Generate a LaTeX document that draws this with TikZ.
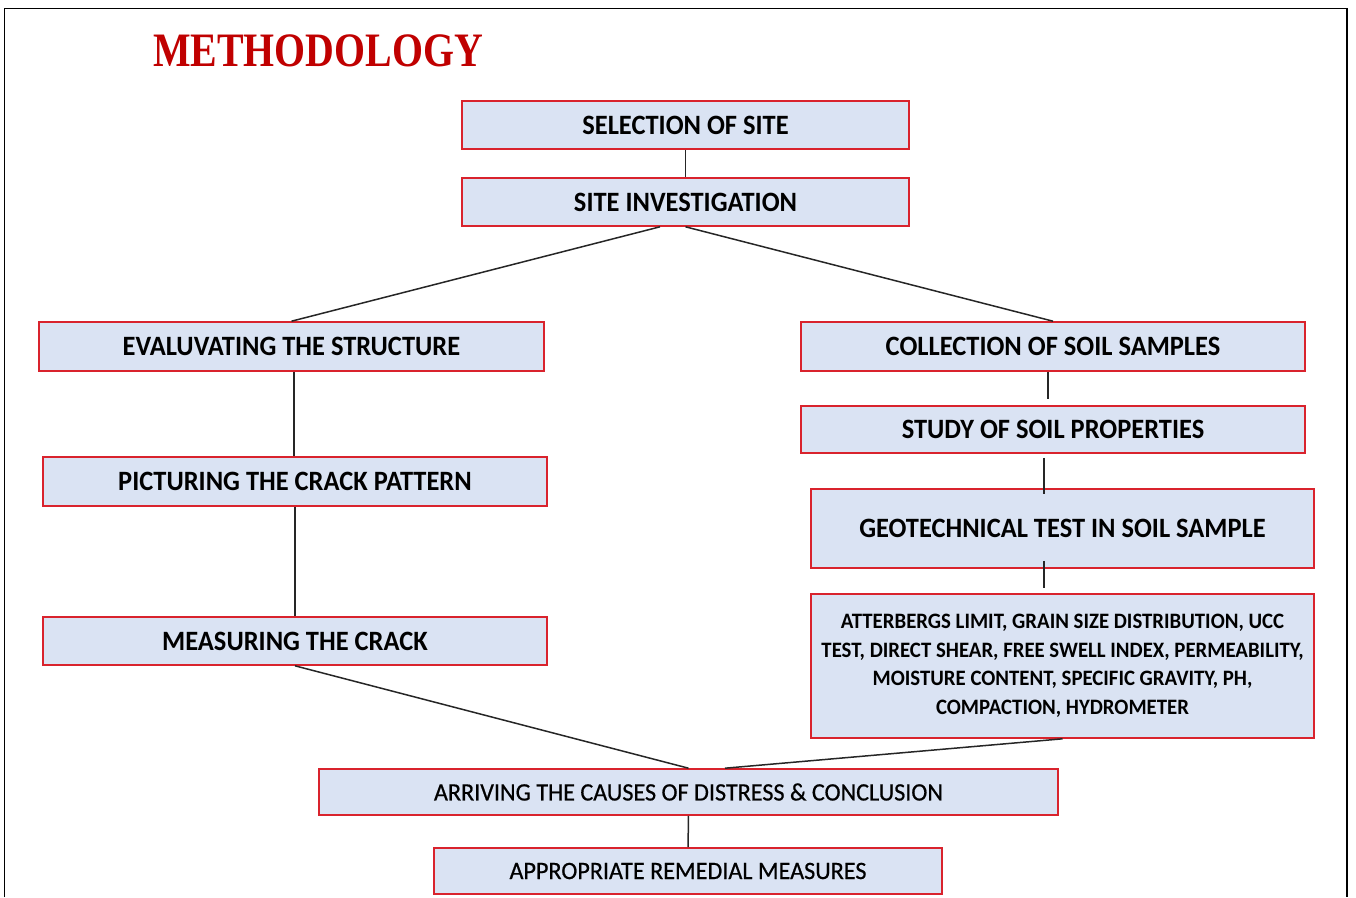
\documentclass[tikz,border=0pt]{standalone}
\usepackage{fontspec}
\newfontfamily\boxfont[FakeStretch=0.945]{Carlito}
\newfontfamily\quietfont[FakeStretch=0.966,FakeBold=0.6]{Carlito}
\newfontfamily\titlefont[FakeStretch=0.83]{Liberation Serif}
\tikzset{>=latex}
\definecolor{boxred}{HTML}{D9232D}
\definecolor{boxblue}{HTML}{DAE3F3}
\definecolor{titlered}{HTML}{C00000}
\tikzset{
  stage/.style={draw=boxred, fill=boxblue, line width=1.6pt, inner sep=0pt, minimum height=48pt, font=\boxfont\bfseries\fontsize{28}{30}\selectfont},
  quietstage/.style={stage, font=\quietfont\fontsize{25}{27}\selectfont},
  link/.style={draw=black!85, line width=1.5pt}
}

\begin{document}
\begin{tikzpicture}[x=1pt, y=-1pt]
  \useasboundingbox (0,0) rectangle (1356,897);
  \draw[line width=1.5pt] (4.5,897) -- (4.5,8.5) -- (1347,8.5) -- (1347,897);
  \node[font=\titlefont\bfseries\fontsize{48}{50}\selectfont, text=titlered] (title) at (318,51) {METHODOLOGY};

  \node[stage, minimum width=447pt] (select) at (685.5,125) {SELECTION OF SITE};
  \node[stage, minimum width=447pt] (invest) at (685.5,202) {SITE INVESTIGATION};
  \node[stage, minimum width=505pt, minimum height=49pt] (evaluate) at (291.5,346.5) {EVALUVATING THE STRUCTURE};
  \node[stage, minimum width=504pt, minimum height=49pt] (collect) at (1053,346.5) {COLLECTION OF SOIL SAMPLES};
  \node[stage, minimum width=504pt, minimum height=49pt] (picture) at (295,481.5) {PICTURING THE CRACK PATTERN};
  \node[stage, minimum width=504pt, minimum height=47pt] (study) at (1053,429.5) {STUDY OF SOIL PROPERTIES};
  \node[stage, minimum width=503pt, minimum height=79pt] (geo) at (1062.5,528.5) {GEOTECHNICAL TEST IN SOIL SAMPLE};
  \node[stage, minimum width=504pt] (measure) at (295,641) {MEASURING THE CRACK};
  \node[stage, minimum width=503pt, minimum height=144pt, align=center,
        font=\boxfont\bfseries\fontsize{22}{28.5}\selectfont] (tests) at (1062.5,666)
    {ATTERBERGS LIMIT, GRAIN SIZE DISTRIBUTION, UCC\\TEST, DIRECT SHEAR, FREE SWELL INDEX, PERMEABILITY,\\MOISTURE CONTENT, SPECIFIC GRAVITY, PH,\\COMPACTION, HYDROMETER};
  \node[quietstage, minimum width=739pt, minimum height=46pt] (arrive) at (688.5,792) {ARRIVING THE CAUSES OF DISTRESS \& CONCLUSION};
  \node[quietstage, minimum width=508pt, minimum height=46pt] (remedy) at (688,871) {APPROPRIATE REMEDIAL MEASURES};

  \draw[link] (select) -- (invest);
  \draw[link] ([xshift=-25.5pt]invest.south) -- (evaluate.north);
  \draw[link] (invest.south) -- (collect.north);
  \draw[link] ([xshift=2.5pt]evaluate.south) -- ([xshift=2.5pt]evaluate.south |- picture.north);
  \draw[link] (picture) -- (measure);
  \draw[link] ([xshift=-5pt]collect.south) -- ([xshift=-5pt,yshift=6pt]study.north);
  \draw[link] ([xshift=-9pt,yshift=-4pt]study.south) -- ([xshift=-18.5pt,yshift=-6pt]geo.north);
  \draw[link] ([xshift=-18.5pt,yshift=8pt]geo.south) -- ([xshift=-18.5pt,yshift=5pt]tests.north);
  \draw[link] (measure.south) -- (arrive.north);
  \draw[link] (tests.south) -- ([xshift=36.5pt]arrive.north);
  \draw[link] (arrive) -- (remedy);
\end{tikzpicture}
\end{document}
